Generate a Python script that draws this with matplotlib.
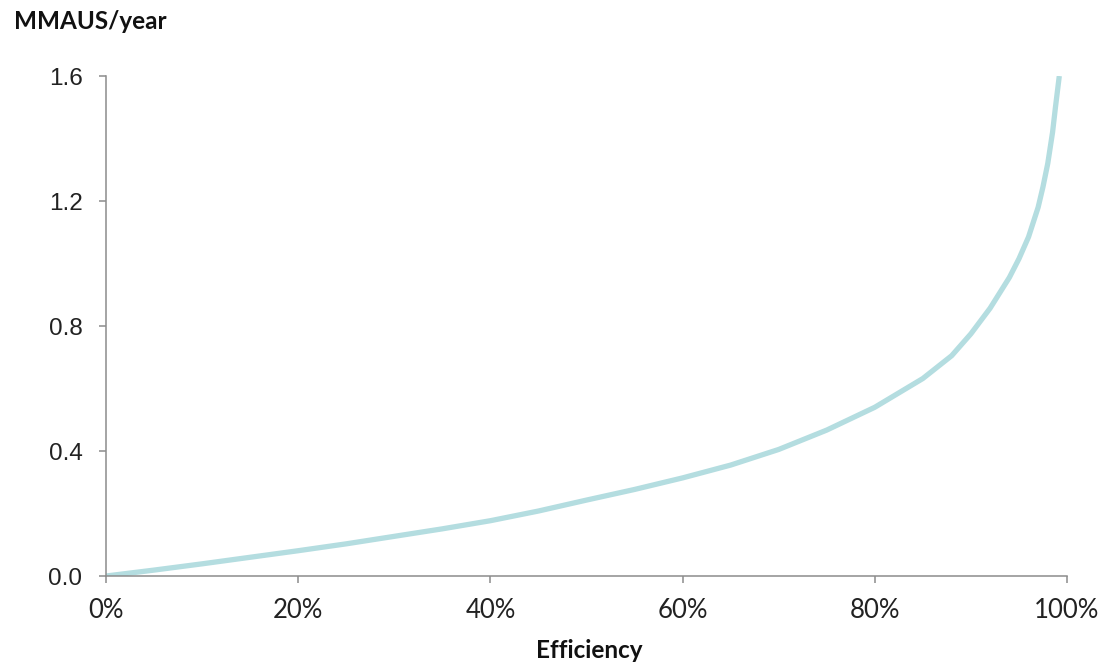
import matplotlib

matplotlib.use("Agg")
import matplotlib.pyplot as plt
from matplotlib.ticker import FuncFormatter


# efficiency (%) vs cost
efficiency = [0, 5, 10, 15, 20, 25, 30, 35, 40, 45, 50, 55, 60, 65, 70,
              75, 80, 85, 88, 90, 92, 94, 95, 96, 97, 97.5, 98, 98.5, 98.8, 99.2]
mmaus = [0.0, 0.019, 0.039, 0.06, 0.081, 0.103, 0.127, 0.151, 0.177, 0.208,
         0.243, 0.277, 0.314, 0.355, 0.405, 0.467, 0.54, 0.632, 0.705, 0.775,
         0.857, 0.955, 1.015, 1.085, 1.18, 1.245, 1.32, 1.42, 1.5, 1.6]
x_ticks = [0, 20, 40, 60, 80, 100]
y_ticks = [0.0, 0.4, 0.8, 1.2, 1.6]

AXIS_GREY = "#8c8c8c"
LINE_COLOR = "#b4dde0"

fig = plt.figure(figsize=(11.01, 6.65), dpi=100)
ax = fig.add_axes([0.0963, 0.1338, 0.8728, 0.7519])

ax.plot(efficiency, mmaus, color=LINE_COLOR, linewidth=3.8, solid_capstyle="butt")

ax.set_xlim(0, 100)
ax.set_ylim(0, 1.6)
ax.set_xticks(x_ticks)
ax.set_yticks(y_ticks)
ax.xaxis.set_major_formatter(FuncFormatter(lambda v, _: f"{v:.0f}%"))
ax.yaxis.set_major_formatter(FuncFormatter(lambda v, _: f"{v:.1f}"))

for side in ["top", "right"]:
    ax.spines[side].set_visible(False)
for side in ["left", "bottom"]:
    ax.spines[side].set_color(AXIS_GREY)
    ax.spines[side].set_linewidth(1.1)

ax.tick_params(axis="both", direction="out", length=5, width=1.1, color=AXIS_GREY)
ax.tick_params(axis="y", pad=12, labelsize=17.5, labelcolor="#222222")
ax.tick_params(axis="x", pad=11, labelsize=18.5, labelcolor="#222222")
for lbl in ax.get_yticklabels():
    lbl.set_fontfamily("Liberation Sans")
for lbl in ax.get_xticklabels():
    lbl.set_fontfamily("Lato")

fig.text(14 / 1101, 1 - 29 / 665, "MMAUS/year", fontsize=17.5, fontweight="bold",
         family="Lato", ha="left", va="baseline", color="#111111")
fig.text(589 / 1101, 1 - 658 / 665, "Efficiency", fontsize=17.5, fontweight="bold",
         family="Lato", ha="center", va="baseline", color="#111111")

fig.savefig("out.png", dpi=100)
